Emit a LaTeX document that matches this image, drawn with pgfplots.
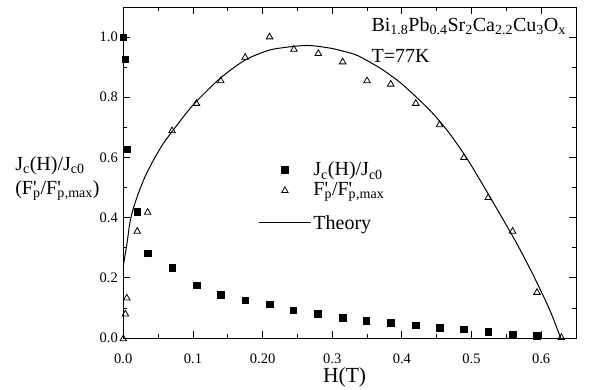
\documentclass[border=0pt]{standalone}
\usepackage{fontspec}
\setmainfont{Liberation Serif}
\usepackage{pgfplots}
\pgfplotsset{compat=1.18}
\pgfplotsset{
  mylegmark/.style={legend image code/.code={\draw[mark repeat=2,mark phase=2,##1] plot coordinates {(0pt,0pt)(26pt,0pt)(52pt,0pt)};}},
  mylegline/.style={legend image code/.code={\draw[##1] (0pt,-6pt) -- (52pt,-6pt);}},
}
\newcommand{\sub}[1]{\textsubscript{#1}}
\newcommand{\Fp}{F\rlap{\textquotesingle}\sub{p}}
\begin{document}
\begin{tikzpicture}
\begin{axis}[
  scale only axis,
  width=452.7pt, height=331pt,
  xmin=0, xmax=0.65, ymin=0, ymax=1.1,
  clip=false,
  axis line style={line width=0.9pt},
  tick align=inside,
  major tick length=7pt, minor tick length=4pt,
  tick style={black, line width=0.8pt},
  xtick={0,0.1,0.2,0.3,0.4,0.5,0.6},
  xticklabels={0.0,0.1,0.20,0.3,0.4,0.5,0.6},
  minor xtick={0.05,0.15,0.25,0.35,0.45,0.55,0.65},
  ytick={0,0.2,0.4,0.6,0.8,1.0},
  yticklabels={0.0,0.2,0.4,0.6,0.8,1.0},
  minor ytick={0.1,0.3,0.5,0.7,0.9,1.1},
  xticklabel style={font=\fontsize{14.5}{16}\selectfont, yshift=-12pt},
  yticklabel style={font=\fontsize{14.5}{16}\selectfont, xshift=-2pt},
  legend style={draw=none, fill=none, at={(0.298,0.538)}, anchor=north west,
    font=\fontsize{20}{22}\selectfont, row sep=1pt, inner sep=0pt},
  legend cell align=left,
]
\addplot[only marks, mark=square*, mark size=3.3pt, black, mylegmark]
coordinates {
(0,1.0) (0.003,0.926) (0.005,0.627) (0.020,0.42) (0.035,0.282) (0.070,0.233)
(0.105,0.175) (0.140,0.144) (0.175,0.126) (0.210,0.112) (0.244,0.093) (0.279,0.080)
(0.315,0.068) (0.349,0.058) (0.384,0.051) (0.420,0.043) (0.454,0.035) (0.489,0.029)
(0.524,0.020) (0.559,0.013) (0.594,0.007)
};
\addlegendentry{J\sub{c}(H)/J\sub{c0}}
\addplot[only marks, mark=triangle, mark size=3.8pt, black, mark options={line width=0.8pt, yshift=-0.8pt}, mylegmark]
coordinates {
(0,0.0) (0.003,0.082) (0.005,0.135) (0.020,0.357) (0.035,0.42) (0.070,0.691)
(0.105,0.782) (0.140,0.857) (0.175,0.935) (0.210,1.003) (0.245,0.962) (0.280,0.948)
(0.315,0.92) (0.350,0.857) (0.384,0.846) (0.420,0.782) (0.454,0.711) (0.489,0.602)
(0.524,0.469) (0.559,0.357) (0.594,0.154) (0.629,0.004)
};
\addlegendentry{\Fp/\Fp\sub{,max}}
\addplot[black, line width=1pt, smooth, tension=0.4, mylegline]
coordinates {
(0,0.24) (0.005,0.31) (0.0096,0.385) (0.0143,0.43) (0.0215,0.48) (0.031,0.535)
(0.043,0.59) (0.057,0.645) (0.072,0.692) (0.1,0.774) (0.139,0.863) (0.175,0.924)
(0.21,0.957) (0.244,0.969) (0.268,0.972) (0.30,0.962) (0.335,0.94) (0.37,0.895)
(0.397,0.85) (0.421,0.80) (0.445,0.745) (0.469,0.678) (0.493,0.598) (0.516,0.51)
(0.54,0.415) (0.564,0.318) (0.588,0.212) (0.612,0.095) (0.628,0.0)
};
\addlegendentry{\rule[-17.6pt]{0pt}{44.6pt}Theory}
\node[anchor=base west, font=\fontsize{20}{22}\selectfont, inner sep=0pt] at (rel axis cs:0.548,0.925)
  {Bi\sub{1.8}Pb\sub{0.4}Sr\sub{2}Ca\sub{2.2}Cu\sub{3}O\sub{x}};
\node[anchor=base west, font=\fontsize{20}{22}\selectfont, inner sep=0pt] at (rel axis cs:0.548,0.831)
  {T=77K};
\node[anchor=west, align=left, font=\fontsize{20}{24}\selectfont, inner sep=0pt] at (rel axis cs:-0.239,0.483)
  {J\sub{c}(H)/J\sub{c0}\\(\Fp/\Fp\sub{,max})};
\node[anchor=base, font=\fontsize{21.5}{24}\selectfont, inner sep=0pt] at (rel axis cs:0.489,-0.135)
  {H(T)};
\end{axis}
\pgfresetboundingbox
\path[use as bounding box] ([xshift=-123.3pt,yshift=-52pt]current axis.south west) rectangle ([xshift=13pt,yshift=7pt]current axis.north east);
\end{tikzpicture}
\end{document}
